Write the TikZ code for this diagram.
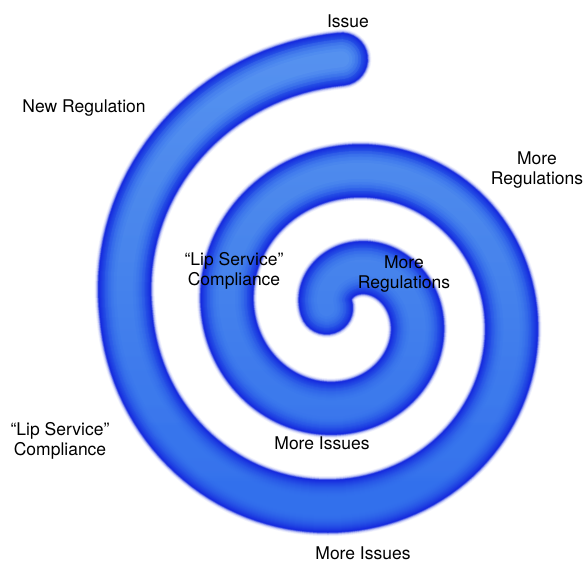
\documentclass[tikz,border=0pt]{standalone}
\usepackage{fontspec}
\setmainfont{TeX Gyre Heros}
\usepackage{tikz}
\usetikzlibrary{fadings}

\definecolor{spiralrim}{RGB}{22,44,222}
\definecolor{spiralcore}{RGB}{50,112,236}
\definecolor{spiralshine}{RGB}{120,178,246}

\tikzset{
  spiraltext/.style={font=\fontsize{17.5}{20}\selectfont, align=center, inner sep=0pt},
  spiralpath/.style={line cap=round},
}

\begin{document}
\begin{tikzpicture}[x=1pt, y=-1pt,
    declare function={
      spirad(\t) = 216.25 - 49.25*((\t-180)/180) + (\t<180)*14*((180-\t)/90);
      spimidx(\t) = 342.25 + 1.75*((\t-180)/180);
    }]
  \useasboundingbox (0,0) rectangle (587,565);
  \pgfmathsetmacro{\cy}{314}
  \def\spiral{plot[domain=90:885, samples=300, variable=\t]
      ({spimidx(\t) + spirad(\t)*cos(\t)}, {\cy - spirad(\t)*sin(\t)})}
  % soft outer edge
  \foreach \w/\h in {60/5, 58.5/12, 57/25, 55.5/45, 54/70, 53/88}
    \draw[spiralpath, line width=\w pt, color=spiralrim!\h] \spiral;
  % body: deep blue rim fading into the lighter core
  \foreach \i in {0,...,18} {
    \pgfmathsetmacro{\w}{52-2*\i}
    \pgfmathsetmacro{\m}{100*(1-\i/18)^2}
    \draw[spiralpath, line width=\w pt, color=spiralrim!\m!spiralcore] \spiral;
  }
  % lighter top
  \foreach \w in {40,34,28,22,16}
    \draw[spiralpath, line width=\w pt, color=spiralshine, opacity=0.14, path fading=south] \spiral;

  \node[spiraltext] (issue) at (348,21) {Issue};
  \node[spiraltext] (newreg) at (84,108) {New Regulation};
  \node[spiraltext] (moreregs) at (537,170) {More\\Regulations};
  \node[spiraltext] (lipinner) at (234,271) {“Lip Service”\\Compliance};
  \node[spiraltext] (moreregsinner) at (404,274) {More\\Regulations};
  \node[spiraltext] (lipouter) at (60,441) {“Lip Service”\\Compliance};
  \node[spiraltext] (issuesinner) at (322,443) {More Issues};
  \node[spiraltext] (issuesouter) at (363,553) {More Issues};
\end{tikzpicture}
\end{document}
